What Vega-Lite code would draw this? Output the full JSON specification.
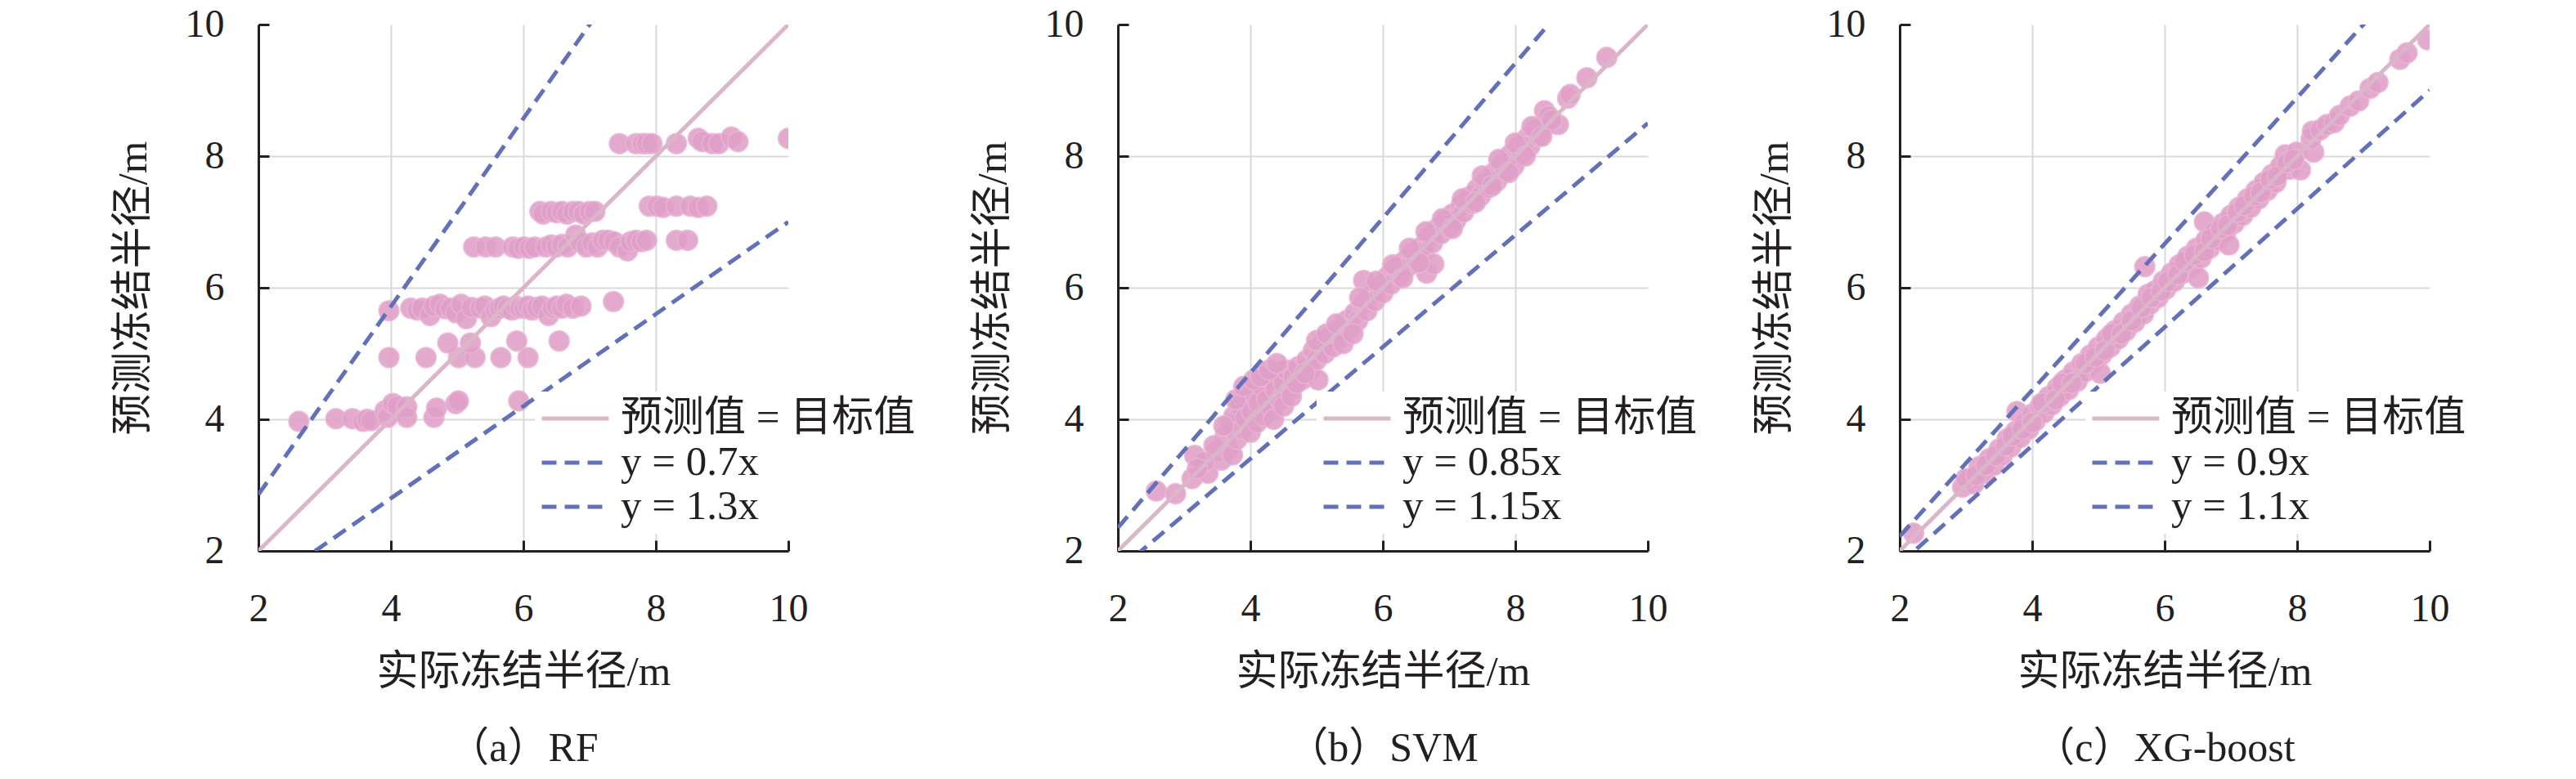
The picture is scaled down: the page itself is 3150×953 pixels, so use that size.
{
  "$schema": "https://vega.github.io/schema/vega-lite/v6.json",
  "padding": {"left": 137, "top": 6, "right": 0, "bottom": 0},
  "spacing": 62,
  "config": {
    "view": {"stroke": null},
    "font": "Liberation Serif, Noto Sans CJK SC",
    "axis": {
      "domainColor": "#231f20", "domainWidth": 3,
      "tickColor": "#231f20", "tickWidth": 3, "tickSize": -13,
      "labelFont": "Liberation Serif", "labelFontSize": 48, "labelColor": "#231f20",
      "labelFlush": false, "labelOverlap": false, "format": "d",
      "titleFont": "Liberation Serif, Noto Sans CJK SC", "titleFontSize": 51, "titleFontWeight": "normal", "titleColor": "#231f20",
      "gridWidth": 2
    },
    "axisX": {"labelPadding": 60, "titlePadding": 28},
    "axisY": {"labelPadding": 55, "titlePadding": 37},
    "legend": {
      "orient": "none", "title": null, "symbolType": "stroke", "symbolSize": 6724, "symbolStrokeWidth": 5,
      "labelFont": "Liberation Serif, Noto Sans CJK SC", "labelFontSize": 51, "labelColor": "#231f20", "labelLimit": 1000,
      "labelOffset": 12, "clipHeight": 54, "rowPadding": 0, "padding": 6, "fillColor": "white"
    },
    "title": {"font": "Liberation Serif, Noto Sans CJK SC", "fontSize": 50, "fontWeight": "normal", "color": "#231f20", "orient": "bottom", "offset": 44}
  },
  "datasets": {
    "rf": [
      {"x":2.61,"y":3.97},{"x":3.17,"y":4.01},{"x":3.42,"y":4.01},{"x":3.58,"y":3.97},{"x":3.64,"y":4.0},{"x":3.70,"y":3.98},{"x":3.91,"y":4.13},{"x":3.95,"y":4.03},{"x":4.03,"y":4.24},{"x":4.1,"y":4.2},{"x":4.24,"y":4.19},{"x":4.24,"y":4.03},{"x":4.65,"y":4.03},{"x":4.69,"y":4.17},{"x":4.98,"y":4.24},{"x":5.02,"y":4.28},{"x":5.93,"y":4.28},
      {"x":3.97,"y":4.94},{"x":4.53,"y":4.94},{"x":5.02,"y":4.94},{"x":5.27,"y":4.94},{"x":5.66,"y":4.94},{"x":6.07,"y":4.94},
      {"x":4.86,"y":5.16},{"x":5.2,"y":5.16},{"x":5.9,"y":5.19},{"x":6.54,"y":5.19},
      {"x":3.97,"y":5.65},{"x":4.30,"y":5.69},{"x":4.40,"y":5.66},{"x":4.47,"y":5.69},{"x":4.59,"y":5.58},{"x":4.65,"y":5.72},{"x":4.74,"y":5.75},{"x":4.82,"y":5.68},{"x":4.90,"y":5.69},{"x":4.98,"y":5.62},{"x":5.06,"y":5.75},{"x":5.14,"y":5.53},{"x":5.22,"y":5.70},{"x":5.35,"y":5.69},{"x":5.42,"y":5.72},{"x":5.51,"y":5.56},{"x":5.58,"y":5.66},{"x":5.64,"y":5.69},{"x":5.70,"y":5.72},{"x":5.76,"y":5.69},{"x":5.83,"y":5.66},{"x":5.89,"y":5.72},{"x":5.95,"y":5.69},{"x":6.01,"y":5.69},{"x":6.07,"y":5.72},{"x":6.13,"y":5.66},{"x":6.20,"y":5.70},{"x":6.28,"y":5.72},{"x":6.38,"y":5.58},{"x":6.44,"y":5.69},{"x":6.50,"y":5.72},{"x":6.58,"y":5.69},{"x":6.65,"y":5.75},{"x":6.75,"y":5.69},{"x":6.87,"y":5.72},{"x":7.36,"y":5.79},
      {"x":5.25,"y":6.62},{"x":5.43,"y":6.62},{"x":5.58,"y":6.62},{"x":5.84,"y":6.62},{"x":5.92,"y":6.60},{"x":6.01,"y":6.62},{"x":6.09,"y":6.60},{"x":6.17,"y":6.62},{"x":6.34,"y":6.62},{"x":6.42,"y":6.65},{"x":6.50,"y":6.62},{"x":6.58,"y":6.66},{"x":6.67,"y":6.62},{"x":6.79,"y":6.80},{"x":6.85,"y":6.70},{"x":6.95,"y":6.62},{"x":7.04,"y":6.68},{"x":7.12,"y":6.62},{"x":7.20,"y":6.72},{"x":7.28,"y":6.72},{"x":7.37,"y":6.70},{"x":7.45,"y":6.62},{"x":7.57,"y":6.56},{"x":7.62,"y":6.70},{"x":7.70,"y":6.72},{"x":7.78,"y":6.70},{"x":7.86,"y":6.72},{"x":8.31,"y":6.72},{"x":8.48,"y":6.72},
      {"x":6.25,"y":7.16},{"x":6.30,"y":7.12},{"x":6.42,"y":7.16},{"x":6.50,"y":7.14},{"x":6.58,"y":7.16},{"x":6.66,"y":7.12},{"x":6.75,"y":7.16},{"x":6.83,"y":7.16},{"x":6.91,"y":7.12},{"x":7.00,"y":7.16},{"x":7.08,"y":7.16},{"x":7.90,"y":7.24},{"x":8.02,"y":7.24},{"x":8.11,"y":7.22},{"x":8.31,"y":7.24},{"x":8.52,"y":7.24},{"x":8.64,"y":7.22},{"x":8.77,"y":7.24},
      {"x":7.45,"y":8.19},{"x":7.70,"y":8.19},{"x":7.80,"y":8.19},{"x":7.86,"y":8.19},{"x":7.94,"y":8.19},{"x":8.31,"y":8.19},{"x":8.64,"y":8.27},{"x":8.70,"y":8.22},{"x":8.85,"y":8.19},{"x":8.95,"y":8.19},{"x":9.14,"y":8.29},{"x":9.24,"y":8.22},{"x":10.0,"y":8.27}
    ],
    "svm": [
      {"x":2.58,"y":2.91},{"x":2.87,"y":2.87},{"x":3.12,"y":3.10},{"x":3.16,"y":3.45},{"x":3.36,"y":3.18},{"x":3.50,"y":3.52},{"x":3.56,"y":3.38},{"x":3.62,"y":3.75},{"x":3.66,"y":3.55},{"x":3.73,"y":3.46},{"x":3.70,"y":3.92},{"x":3.75,"y":4.05},{"x":3.80,"y":3.70},{"x":3.85,"y":4.20},{"x":3.88,"y":3.85},{"x":3.92,"y":4.02},{"x":3.95,"y":4.30},{"x":4.00,"y":3.80},{"x":4.02,"y":4.12},{"x":4.05,"y":4.40},{"x":4.10,"y":3.95},{"x":4.12,"y":4.25},{"x":4.18,"y":4.50},{"x":4.20,"y":4.05},{"x":4.25,"y":4.30},{"x":4.30,"y":4.60},{"x":4.33,"y":4.15},{"x":4.38,"y":4.45},{"x":4.42,"y":4.70},{"x":4.45,"y":4.30},{"x":4.50,"y":4.55},{"x":4.55,"y":4.75},{"x":4.60,"y":4.45},{"x":4.65,"y":4.65},{"x":4.72,"y":4.80},{"x":4.78,"y":4.60},{"x":4.85,"y":4.90},{"x":4.90,"y":4.75},{"x":4.95,"y":5.05},{"x":5.02,"y":4.60},{"x":5.00,"y":4.90},{"x":5.08,"y":5.15},{"x":5.12,"y":5.00},{"x":5.20,"y":5.25},{"x":5.25,"y":5.10},{"x":5.32,"y":5.35},{"x":5.38,"y":5.25},{"x":5.45,"y":5.50},{"x":5.50,"y":5.38},{"x":5.58,"y":5.62},{"x":5.62,"y":5.50},{"x":5.70,"y":5.75},{"x":5.71,"y":6.11},{"x":5.76,"y":5.65},{"x":5.82,"y":5.90},{"x":5.88,"y":5.80},{"x":5.95,"y":6.02},{"x":6.00,"y":5.92},{"x":6.08,"y":6.18},{"x":6.12,"y":6.05},{"x":6.20,"y":6.30},{"x":6.25,"y":6.18},{"x":6.32,"y":6.40},{"x":6.38,"y":6.32},{"x":6.45,"y":6.52},{"x":6.50,"y":6.42},{"x":6.58,"y":6.62},{"x":6.62,"y":6.55},{"x":6.66,"y":6.22},{"x":6.77,"y":6.36},{"x":6.70,"y":6.78},{"x":6.75,"y":6.68},{"x":6.82,"y":6.90},{"x":6.88,"y":6.82},{"x":6.95,"y":7.02},{"x":7.00,"y":6.92},{"x":7.05,"y":7.12},{"x":7.10,"y":7.02},{"x":7.18,"y":7.25},{"x":7.22,"y":7.15},{"x":7.30,"y":7.38},{"x":7.35,"y":7.28},{"x":7.42,"y":7.50},{"x":7.48,"y":7.40},{"x":7.55,"y":7.60},{"x":7.60,"y":7.52},{"x":7.68,"y":7.75},{"x":7.72,"y":7.62},{"x":7.80,"y":7.88},{"x":7.85,"y":7.78},{"x":7.92,"y":8.02},{"x":7.98,"y":7.85},{"x":8.05,"y":8.15},{"x":8.10,"y":8.05},{"x":8.18,"y":8.28},{"x":8.22,"y":8.15},{"x":8.30,"y":8.40},{"x":8.35,"y":8.30},{"x":8.44,"y":8.69},{"x":8.50,"y":8.61},{"x":8.45,"y":8.45},{"x":8.65,"y":8.48},{"x":8.79,"y":8.88},{"x":8.83,"y":8.94},{"x":9.08,"y":9.19},{"x":9.38,"y":9.50},
      {"x":3.60,"y":3.90},{"x":3.78,"y":4.30},{"x":3.90,"y":4.50},{"x":4.05,"y":4.60},{"x":4.15,"y":4.65},{"x":4.28,"y":4.75},{"x":4.40,"y":4.85},{"x":4.35,"y":4.00},{"x":4.50,"y":4.20},{"x":4.62,"y":4.35},{"x":4.70,"y":4.55},{"x":4.82,"y":4.70},{"x":5.00,"y":5.20},{"x":5.15,"y":5.30},{"x":5.30,"y":5.45},{"x":5.40,"y":5.15},{"x":5.55,"y":5.30},{"x":5.65,"y":5.85},{"x":5.90,"y":6.10},{"x":6.15,"y":6.35},{"x":6.30,"y":6.15},{"x":6.40,"y":6.60},{"x":6.55,"y":6.38},{"x":6.65,"y":6.85},{"x":6.90,"y":7.05},{"x":7.05,"y":6.90},{"x":7.20,"y":7.35},{"x":7.40,"y":7.30},{"x":7.50,"y":7.70},{"x":7.65,"y":7.55},{"x":7.75,"y":7.95},{"x":7.90,"y":7.75},{"x":8.00,"y":8.20},{"x":8.15,"y":8.00},{"x":8.25,"y":8.45},{"x":8.40,"y":8.30},{"x":8.55,"y":8.55},{"x":3.45,"y":3.60},{"x":3.30,"y":3.35},{"x":3.20,"y":3.25}
    ],
    "xgb": [
      {"x":2.21,"y":2.27},{"x":2.95,"y":2.97},{"x":3.05,"y":3.08},{"x":3.12,"y":3.02},{"x":3.20,"y":3.28},{"x":3.28,"y":3.18},{"x":3.35,"y":3.40},{"x":3.42,"y":3.30},{"x":3.50,"y":3.55},{"x":3.55,"y":3.45},{"x":3.62,"y":3.70},{"x":3.68,"y":3.58},{"x":3.77,"y":4.12},{"x":3.75,"y":3.82},{"x":3.82,"y":3.72},{"x":3.88,"y":3.95},{"x":3.95,"y":3.85},{"x":4.00,"y":4.08},{"x":4.05,"y":3.98},{"x":4.12,"y":4.20},{"x":4.18,"y":4.10},{"x":4.25,"y":4.35},{"x":4.30,"y":4.22},{"x":4.38,"y":4.48},{"x":4.42,"y":4.35},{"x":4.50,"y":4.60},{"x":4.55,"y":4.45},{"x":4.62,"y":4.72},{"x":4.68,"y":4.58},{"x":4.75,"y":4.85},{"x":4.80,"y":4.72},{"x":4.88,"y":4.98},{"x":4.92,"y":4.85},{"x":5.03,"y":4.70},{"x":5.00,"y":5.10},{"x":5.05,"y":4.98},{"x":5.12,"y":5.22},{"x":5.18,"y":5.10},{"x":5.25,"y":5.35},{"x":5.30,"y":5.22},{"x":5.38,"y":5.48},{"x":5.42,"y":5.35},{"x":5.50,"y":5.60},{"x":5.55,"y":5.48},{"x":5.62,"y":5.72},{"x":5.68,"y":5.60},{"x":5.70,"y":6.32},{"x":5.75,"y":5.90},{"x":5.78,"y":5.75},{"x":5.85,"y":5.95},{"x":5.90,"y":5.85},{"x":5.98,"y":6.10},{"x":6.02,"y":5.98},{"x":6.10,"y":6.22},{"x":6.15,"y":6.10},{"x":6.22,"y":6.35},{"x":6.28,"y":6.22},{"x":6.35,"y":6.48},{"x":6.40,"y":6.32},{"x":6.48,"y":6.60},{"x":6.51,"y":6.15},{"x":6.55,"y":6.45},{"x":6.60,"y":7.00},{"x":6.62,"y":6.72},{"x":6.68,"y":6.60},{"x":6.75,"y":6.85},{"x":6.80,"y":6.72},{"x":6.88,"y":6.98},{"x":6.92,"y":6.85},{"x":6.97,"y":6.65},{"x":7.00,"y":7.10},{"x":7.05,"y":6.98},{"x":7.12,"y":7.22},{"x":7.18,"y":7.10},{"x":7.25,"y":7.35},{"x":7.30,"y":7.22},{"x":7.38,"y":7.48},{"x":7.42,"y":7.35},{"x":7.50,"y":7.60},{"x":7.55,"y":7.48},{"x":7.62,"y":7.72},{"x":7.68,"y":7.60},{"x":7.75,"y":7.85},{"x":7.82,"y":8.02},{"x":7.88,"y":7.80},{"x":7.99,"y":8.06},{"x":8.05,"y":7.79},{"x":8.25,"y":8.06},{"x":8.21,"y":8.26},{"x":8.23,"y":8.38},{"x":8.35,"y":8.40},{"x":8.45,"y":8.48},{"x":8.56,"y":8.51},{"x":8.64,"y":8.62},{"x":8.80,"y":8.76},{"x":8.93,"y":8.84},{"x":9.10,"y":9.03},{"x":9.22,"y":9.12},{"x":9.55,"y":9.47},{"x":9.66,"y":9.57},{"x":9.97,"y":9.77},
      {"x":3.00,"y":3.10},{"x":3.15,"y":3.15},{"x":3.30,"y":3.30},{"x":3.45,"y":3.45},{"x":3.60,"y":3.60},{"x":3.70,"y":3.75},{"x":3.85,"y":3.85},{"x":4.00,"y":3.95},{"x":4.15,"y":4.25},{"x":4.35,"y":4.30},{"x":4.45,"y":4.55},{"x":4.60,"y":4.55},{"x":4.80,"y":4.85},{"x":4.95,"y":4.95},{"x":5.10,"y":5.05},{"x":5.20,"y":5.30},{"x":5.35,"y":5.30},{"x":5.50,"y":5.50},{"x":5.65,"y":5.70},{"x":5.80,"y":5.85},{"x":5.95,"y":5.95},{"x":6.05,"y":6.10},{"x":6.20,"y":6.20},{"x":6.30,"y":6.40},{"x":6.45,"y":6.50},{"x":6.60,"y":6.55},{"x":6.70,"y":6.75},{"x":6.85,"y":6.90},{"x":6.95,"y":6.95},{"x":7.10,"y":7.15},{"x":7.20,"y":7.25},{"x":7.35,"y":7.40},{"x":7.45,"y":7.45},{"x":7.60,"y":7.65},{"x":7.70,"y":7.70},{"x":7.85,"y":7.90},{"x":7.95,"y":7.95}
    ],
    "linesA": [
      {"s":"预测值 = 目标值","x":2,"y":2},{"s":"预测值 = 目标值","x":10,"y":10},
      {"s":"y = 0.7x","x":2,"y":1.4},{"s":"y = 0.7x","x":10,"y":7},
      {"s":"y = 1.3x","x":2,"y":2.857},{"s":"y = 1.3x","x":10,"y":14.286}
    ],
    "linesB": [
      {"s":"预测值 = 目标值","x":2,"y":2},{"s":"预测值 = 目标值","x":10,"y":10},
      {"s":"y = 0.85x","x":2,"y":1.7},{"s":"y = 0.85x","x":10,"y":8.5},
      {"s":"y = 1.15x","x":2,"y":2.353},{"s":"y = 1.15x","x":10,"y":11.765}
    ],
    "linesC": [
      {"s":"预测值 = 目标值","x":2,"y":2},{"s":"预测值 = 目标值","x":10,"y":10},
      {"s":"y = 0.9x","x":2,"y":1.8},{"s":"y = 0.9x","x":10,"y":9},
      {"s":"y = 1.1x","x":2,"y":2.222},{"s":"y = 1.1x","x":10,"y":11.111}
    ]
  },
  "resolve": {"scale": {"color": "independent", "strokeDash": "independent"}, "legend": {"color": "independent", "strokeDash": "independent"}},
  "hconcat": [
    {
      "width": 648, "height": 644,
      "title": {"text": "（a）RF"},
      "layer": [
        {"data": {"name": "rf"}, "mark": {"type": "circle", "size": 620, "color": "#e09fc8", "opacity": 0.88, "stroke": "#e8b6d5", "strokeWidth": 1.5, "clip": true},
         "encoding": {
           "x": {"field": "x", "type": "quantitative", "scale": {"domain": [2, 10], "nice": false, "zero": false}, "axis": {"title": "实际冻结半径/m", "values": [2,4,6,8,10], "grid": true, "gridColor": {"condition": {"test": "datum.value >= 10", "value": "transparent"}, "value": "#d9d9d9"}}},
           "y": {"field": "y", "type": "quantitative", "scale": {"domain": [2, 10], "nice": false, "zero": false}, "axis": {"title": "预测冻结半径/m", "values": [2,4,6,8,10], "grid": true, "gridColor": {"condition": {"test": "datum.value >= 10", "value": "transparent"}, "value": "#d9d9d9"}}}
         }},
        {"data": {"name": "linesA"}, "mark": {"type": "line", "clip": true, "strokeWidth": 5},
         "encoding": {
           "x": {"field": "x", "type": "quantitative"},
           "y": {"field": "y", "type": "quantitative"},
           "color": {"field": "s", "type": "nominal", "scale": {"domain": ["预测值 = 目标值", "y = 0.7x", "y = 1.3x"], "range": ["#dbb6c8", "#6170b8", "#6170b8"]}, "legend": {"legendX": 338, "legendY": 449}},
           "strokeDash": {"field": "s", "type": "nominal", "scale": {"domain": ["预测值 = 目标值", "y = 0.7x", "y = 1.3x"], "range": [[1, 0], [18, 10], [18, 10]]}, "legend": {"legendX": 338, "legendY": 449}}
         }}
      ]
    },
    {
      "width": 648, "height": 644,
      "title": {"text": "（b）SVM"},
      "layer": [
        {"data": {"name": "svm"}, "mark": {"type": "circle", "size": 620, "color": "#e09fc8", "opacity": 0.88, "stroke": "#e8b6d5", "strokeWidth": 1.5, "clip": true},
         "encoding": {
           "x": {"field": "x", "type": "quantitative", "scale": {"domain": [2, 10], "nice": false, "zero": false}, "axis": {"title": "实际冻结半径/m", "values": [2,4,6,8,10], "grid": true, "gridColor": {"condition": {"test": "datum.value >= 10", "value": "transparent"}, "value": "#d9d9d9"}}},
           "y": {"field": "y", "type": "quantitative", "scale": {"domain": [2, 10], "nice": false, "zero": false}, "axis": {"title": "预测冻结半径/m", "values": [2,4,6,8,10], "grid": true, "gridColor": {"condition": {"test": "datum.value >= 10", "value": "transparent"}, "value": "#d9d9d9"}}}
         }},
        {"data": {"name": "linesB"}, "mark": {"type": "line", "clip": true, "strokeWidth": 5},
         "encoding": {
           "x": {"field": "x", "type": "quantitative"},
           "y": {"field": "y", "type": "quantitative"},
           "color": {"field": "s", "type": "nominal", "scale": {"domain": ["预测值 = 目标值", "y = 0.85x", "y = 1.15x"], "range": ["#dbb6c8", "#6170b8", "#6170b8"]}, "legend": {"legendX": 243, "legendY": 449}},
           "strokeDash": {"field": "s", "type": "nominal", "scale": {"domain": ["预测值 = 目标值", "y = 0.85x", "y = 1.15x"], "range": [[1, 0], [18, 10], [18, 10]]}, "legend": {"legendX": 243, "legendY": 449}}
         }}
      ]
    },
    {
      "width": 648, "height": 644,
      "title": {"text": "（c）XG-boost"},
      "layer": [
        {"data": {"name": "xgb"}, "mark": {"type": "circle", "size": 620, "color": "#e09fc8", "opacity": 0.88, "stroke": "#e8b6d5", "strokeWidth": 1.5, "clip": true},
         "encoding": {
           "x": {"field": "x", "type": "quantitative", "scale": {"domain": [2, 10], "nice": false, "zero": false}, "axis": {"title": "实际冻结半径/m", "values": [2,4,6,8,10], "grid": true, "gridColor": {"condition": {"test": "datum.value >= 10", "value": "transparent"}, "value": "#d9d9d9"}}},
           "y": {"field": "y", "type": "quantitative", "scale": {"domain": [2, 10], "nice": false, "zero": false}, "axis": {"title": "预测冻结半径/m", "values": [2,4,6,8,10], "grid": true, "gridColor": {"condition": {"test": "datum.value >= 10", "value": "transparent"}, "value": "#d9d9d9"}}}
         }},
        {"data": {"name": "linesC"}, "mark": {"type": "line", "clip": true, "strokeWidth": 5},
         "encoding": {
           "x": {"field": "x", "type": "quantitative"},
           "y": {"field": "y", "type": "quantitative"},
           "color": {"field": "s", "type": "nominal", "scale": {"domain": ["预测值 = 目标值", "y = 0.9x", "y = 1.1x"], "range": ["#dbb6c8", "#6170b8", "#6170b8"]}, "legend": {"legendX": 227, "legendY": 449}},
           "strokeDash": {"field": "s", "type": "nominal", "scale": {"domain": ["预测值 = 目标值", "y = 0.9x", "y = 1.1x"], "range": [[1, 0], [18, 10], [18, 10]]}, "legend": {"legendX": 227, "legendY": 449}}
         }}
      ]
    }
  ]
}
